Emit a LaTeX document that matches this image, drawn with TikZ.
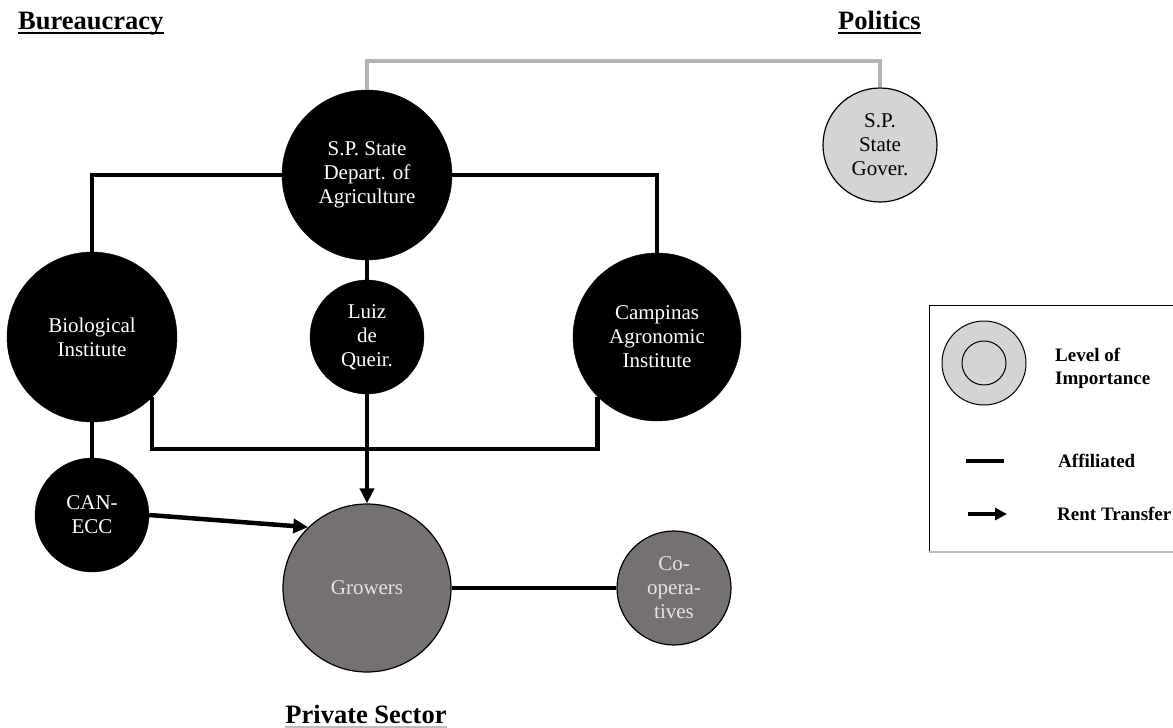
\documentclass[tikz,border=0pt]{standalone}
\usepackage{fontspec}
\setmainfont{Liberation Serif}
\usetikzlibrary{arrows.meta,calc}
\definecolor{growgray}{HTML}{767171}
\definecolor{govgray}{HTML}{D4D4D4}
\definecolor{linkgray}{HTML}{B3B3B3}
\definecolor{boxgray}{HTML}{BDBDBD}
\newcommand\ndfont{\fontsize{21}{24}\selectfont}
\begin{document}
\begin{tikzpicture}[x=1pt,y=-1pt,
  blacknode/.style={circle, fill=black, draw=black, inner sep=0pt, text=white, align=center, font=\ndfont},
  grownode/.style={circle, fill=growgray, draw=black, line width=1.2pt, inner sep=0pt, text=white!90!black, align=center, font=\ndfont},
  govnode/.style={circle, fill=govgray, draw=black, line width=1.2pt, inner sep=0pt, text=black, align=center, font=\ndfont},
  aff/.style={line width=4.5pt, draw=black},
  rent/.style={aff, -{Triangle[length=15pt,width=14pt]}},
  polit/.style={line width=4pt, draw=linkgray},
  heading/.style={font=\fontsize{26.5}{30}\selectfont\bfseries, inner sep=0pt},
  legtext/.style={font=\fontsize{19}{23}\selectfont\bfseries, inner sep=0pt, align=left, anchor=west}]
\useasboundingbox (0,0) rectangle (1173,728);
\fill[white] (0,0) rectangle (1173,728);

% headings
\node[heading, anchor=base west] (bur) at (18,29) {Bureaucracy};
\node[heading, anchor=base west] (pol) at (838,29) {Politics};
\node[heading, anchor=base] (priv) at (366,723) {Private Sector};
\draw[line width=1.5pt] ([yshift=-4pt]bur.base west) -- ([yshift=-4pt]bur.base east);
\draw[line width=1.5pt] ([yshift=-4pt]pol.base west) -- ([yshift=-4pt]pol.base east);
\draw[line width=1.2pt, boxgray] ([yshift=-4pt]priv.base west) -- ([yshift=-4pt]priv.base east);

% nodes
\node[blacknode, minimum size=170pt] (dept) at (367,175) {S.P. State\\Depart. of\\Agriculture};
\node[blacknode, minimum size=170pt] (bio) at (92,337) {Biological\\Institute};
\node[blacknode, minimum size=114pt] (luiz) at (367,337) {Luiz\\de\\Queir.};
\node[blacknode, minimum size=168pt] (camp) at (657,337) {Campinas\\Agronomic\\Institute};
\node[blacknode, minimum size=114pt] (can) at (92,515) {CAN-\\ECC};
\node[grownode, minimum size=168pt] (gro) at (367,588) {Growers};
\node[grownode, minimum size=114pt] (coop) at (674,588) {Co-\\opera-\\tives};
\node[govnode, minimum size=114pt] (gov) at (880,145) {S.P.\\State\\Gover.};

% connectors
\coordinate (ptop) at (0,61);
\coordinate (brk) at (0,449);
\draw[polit] (dept.north) -- (dept.north |- ptop) -| (gov.north);
\draw[aff] (dept.west) -| (bio.north);
\draw[aff] (dept.east) -| (camp.north);
\draw[aff] (dept.south) -- (luiz.north);
\draw[aff] (bio.south) -- (can.north);
\draw[aff] (bio.-45) -- (bio.-45 |- brk) -| (camp.-135);
\draw[rent] (luiz.south) -- (gro.north);
\draw[rent] (can.east) -- (gro.134);
\draw[aff] (gro.east) -- (coop.west);

% legend
\draw[line width=1pt] (1180,305) -- (929,305) -- (929,552);
\draw[line width=1.2pt, boxgray] (929,552) -- (1180,552);
\node[circle, fill=govgray, draw=black, line width=1pt, minimum size=84pt, inner sep=0pt] (lgo) at (984,363) {};
\node[circle, draw=black, line width=1pt, minimum size=44pt, inner sep=0pt] (lgi) at (984,363) {};
\node[legtext] (lgt1) at (1055,368) {Level of\\Importance};
\coordinate (la1) at (966,461);
\coordinate (la2) at (1004,461);
\draw[line width=4pt] (la1) -- (la2);
\node[legtext] (lgt2) at (1058,461) {Affiliated};
\coordinate (lr1) at (968,514);
\coordinate (lr2) at (1007,514);
\draw[line width=4pt, -{Triangle[length=12pt,width=12pt]}] (lr1) -- (lr2);
\node[legtext] (lgt3) at (1057,514) {Rent Transfer};
\end{tikzpicture}
\end{document}
